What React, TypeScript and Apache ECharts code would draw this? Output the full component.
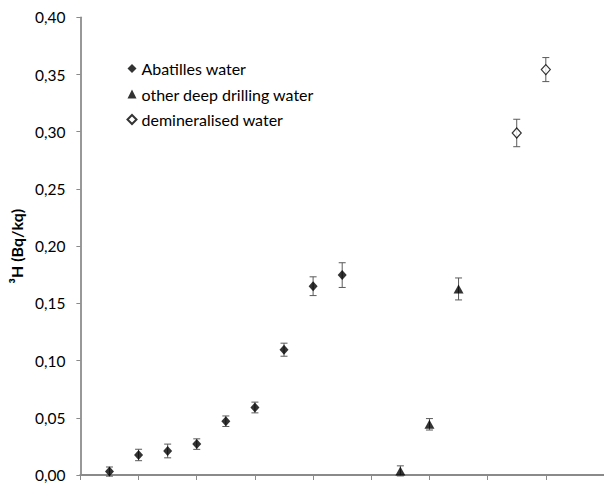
import React, { useEffect, useRef } from "react";
import * as echarts from "echarts";

// Abatilles water
const abatillesX = [0.5, 1, 1.5, 2, 2.5, 3, 3.5, 4, 4.5];
const abatillesY = [0.003, 0.0175, 0.021, 0.027, 0.047, 0.059, 0.1095, 0.165, 0.1747];
const abatillesErr = [0.004, 0.005, 0.006, 0.0046, 0.0046, 0.0047, 0.0057, 0.0082, 0.0108];

// other deep drilling water
const deepX = [5.5, 6, 6.5];
const deepY = [0.0036, 0.0443, 0.1626];
const deepErr = [0.0044, 0.005, 0.0096];

// demineralised water
const demX = [7.5, 8];
const demY = [0.2989, 0.3543];
const demErr = [0.012, 0.0105];

const seriesNames = ["Abatilles water", "other deep drilling water", "demineralised water"];
const yTicks = [0, 0.05, 0.1, 0.15, 0.2, 0.25, 0.3, 0.35, 0.4];

const FONT = "Lato";
const AXIS_GRAY = "#8a8a8a";
const ERR_GRAY = "#5a5a5a";

function points(xs: number[], ys: number[]) {
  return xs.map((x, i) => [x, ys[i]]);
}
function errs(xs: number[], ys: number[], es: number[]) {
  return xs.map((x, i) => [x, ys[i] - es[i], ys[i] + es[i]]);
}

const renderErr = (params: any, api: any) => {
  const x = api.value(0);
  const lo = api.value(1);
  const hi = api.value(2);
  const top = api.coord([x, hi]);
  const bot = api.coord([x, lo]);
  const cap = 3.5;
  const style = { stroke: ERR_GRAY, lineWidth: 1 };
  return {
    type: "group",
    children: [
      { type: "line", shape: { x1: top[0], y1: top[1], x2: bot[0], y2: bot[1] }, style },
      { type: "line", shape: { x1: top[0] - cap, y1: top[1], x2: top[0] + cap, y2: top[1] }, style },
      { type: "line", shape: { x1: bot[0] - cap, y1: bot[1], x2: bot[0] + cap, y2: bot[1] }, style },
    ],
  };
};

export default function App() {
  const ref = useRef<HTMLDivElement>(null);
  useEffect(() => {
    if (!ref.current) return;
    const chart = echarts.init(ref.current, undefined, { renderer: "svg" });
    const errSeries = (data: number[][]) => ({
      type: "custom",
      renderItem: renderErr,
      data,
      encode: { x: 0, y: [1, 2] },
      z: 1,
      silent: true,
    });
    chart.setOption({
      animation: false,
      textStyle: { fontFamily: FONT },
      grid: { left: 79, top: 17.3, width: 527.4, height: 462.2, containLabel: false },
      legend: {
        orient: "vertical",
        left: 126.5,
        top: 60.5,
        padding: 0,
        itemWidth: 9,
        itemHeight: 9,
        itemGap: 9.5,
        itemTextGap: 5,
        data: seriesNames,
        textStyle: { fontFamily: FONT, fontSize: 16, color: "#000", lineHeight: 16 },
      },
      xAxis: {
        type: "value",
        min: 0,
        max: 9,
        interval: 1,
        axisLine: { show: true, lineStyle: { color: AXIS_GRAY, width: 2 } },
        axisTick: { show: true, length: 5, lineStyle: { color: AXIS_GRAY, width: 1 } },
        axisLabel: { show: false },
        splitLine: { show: false },
      },
      yAxis: {
        type: "value",
        min: yTicks[0],
        max: yTicks[yTicks.length - 1],
        interval: 0.05,
        name: "³H (Bq/kq)",
        nameLocation: "middle",
        nameGap: 51.5,
        nameTextStyle: { fontFamily: FONT, fontWeight: "bold", fontSize: 16, color: "#000" },
        axisLine: { show: true, lineStyle: { color: AXIS_GRAY, width: 1.75 } },
        axisTick: { show: true, length: 4, lineStyle: { color: AXIS_GRAY, width: 1 } },
        axisLabel: {
          margin: 15,
          fontFamily: FONT,
          fontSize: 15.5,
          color: "#000",
          formatter: (v: number) => v.toFixed(2).replace(".", ","),
        },
        splitLine: { show: false },
      },
      series: [
        errSeries(errs(abatillesX, abatillesY, abatillesErr)),
        errSeries(errs(deepX, deepY, deepErr)),
        errSeries(errs(demX, demY, demErr)),
        {
          name: seriesNames[0],
          type: "scatter",
          symbol: "diamond",
          symbolSize: [9, 10],
          itemStyle: { color: "#000" },
          data: points(abatillesX, abatillesY),
          z: 3,
        },
        {
          name: seriesNames[1],
          type: "scatter",
          symbol: "triangle",
          symbolSize: [10, 9],
          itemStyle: { color: "#000" },
          data: points(deepX, deepY),
          z: 3,
        },
        {
          name: seriesNames[2],
          type: "scatter",
          symbol: "diamond",
          symbolSize: [9, 10],
          itemStyle: { color: "#fff", borderColor: "#000", borderWidth: 1.2 },
          data: points(demX, demY),
          z: 3,
        },
      ],
    });
    return () => chart.dispose();
  }, []);
  return (
    <div
      ref={ref}
      style={{ position: "fixed", left: 0, top: 0, width: 604, height: 483, background: "#fff" }}
    />
  );
}
